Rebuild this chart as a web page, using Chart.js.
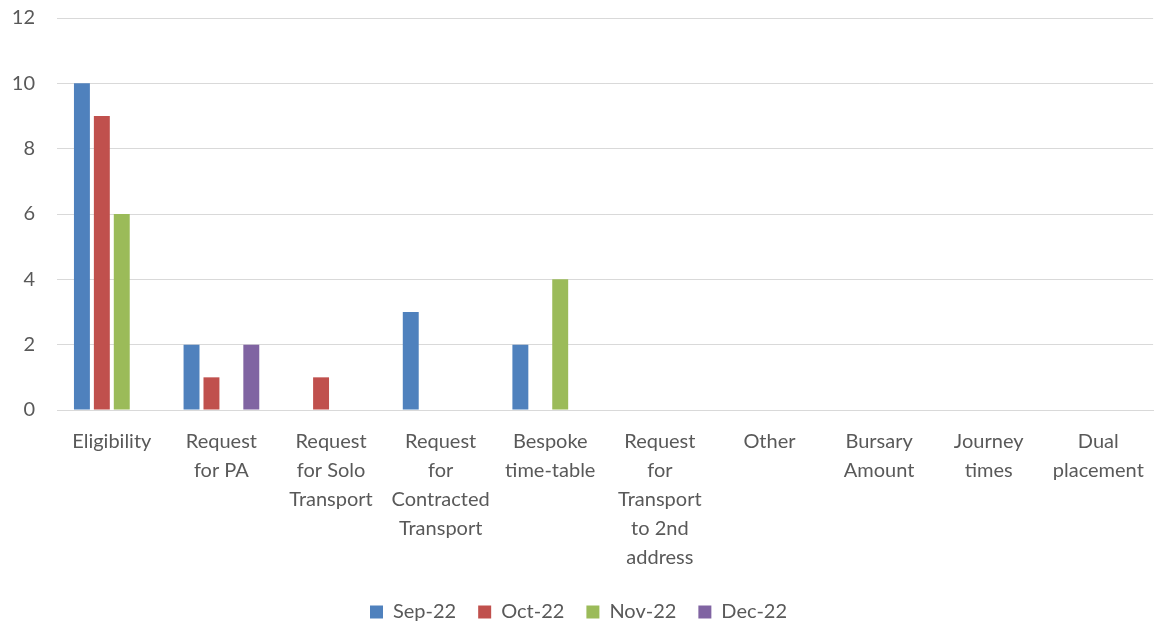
<!DOCTYPE html>
<html>
<head>
<meta charset="utf-8">
<script src="https://cdn.jsdelivr.net/npm/chart.js@4/dist/chart.umd.min.js"></script>
<style>
  html, body { margin: 0; padding: 0; background: #ffffff; }
  #wrap { width: 1161px; height: 626px; }
</style>
</head>
<body>
<div id="wrap"><canvas id="c" width="1161" height="626"></canvas></div>
<script>
// Complaint categories (wrapped into lines as shown under the axis)
const categories = [
  ["Eligibility"],
  ["Request", "for PA"],
  ["Request", "for Solo", "Transport"],
  ["Request", "for", "Contracted", "Transport"],
  ["Bespoke", "time-table"],
  ["Request", "for", "Transport", "to 2nd", "address"],
  ["Other"],
  ["Bursary", "Amount"],
  ["Journey", "times"],
  ["Dual", "placement"]
];

const months = ["Sep-22", "Oct-22", "Nov-22", "Dec-22"];

const sep22 = [10, 2, 0, 3, 2, 0, 0, 0, 0, 0];
const oct22 = [9, 1, 1, 0, 0, 0, 0, 0, 0, 0];
const nov22 = [6, 0, 0, 0, 4, 0, 0, 0, 0, 0];
const dec22 = [0, 2, 0, 0, 0, 0, 0, 0, 0, 0];

const yTicks = [0, 2, 4, 6, 8, 10, 12];

const colors = ["#4f81bd", "#c0504d", "#9bbb59", "#8064a2"];
const series = [sep22, oct22, nov22, dec22];

const FONT = "Lato, 'Open Sans', sans-serif";
const TEXT = "#595959";

new Chart(document.getElementById("c"), {
  type: "bar",
  data: {
    labels: categories,
    datasets: series.map((vals, i) => ({
      label: months[i],
      data: vals,
      backgroundColor: colors[i],
      borderWidth: 0,
      categoryPercentage: 0.727,
      barPercentage: 0.8
    }))
  },
  options: {
    responsive: false,
    animation: false,
    layout: { padding: { top: 18, right: 4, left: 0, bottom: -6 } },
    plugins: {
      tooltip: { enabled: false },
      legend: {
        position: "bottom",
        labels: {
          color: TEXT,
          font: { family: FONT, size: 20 },
          boxWidth: 13,
          boxHeight: 13,
          padding: 22
        }
      }
    },
    scales: {
      x: {
        grid: { display: false, drawTicks: false },
        border: { display: true, color: "#d9d9d9", width: 1 },
        ticks: {
          color: TEXT,
          font: { family: FONT, size: 20, lineHeight: 1.45 },
          padding: 17,
          maxRotation: 0,
          autoSkip: false
        },
        afterFit: (s) => { s.height = 170; }
      },
      y: {
        min: 0,
        max: 12,
        afterBuildTicks: (s) => { s.ticks = yTicks.map(v => ({ value: v })); },
        grid: { color: "#d9d9d9", lineWidth: 1, drawTicks: false },
        border: { display: false },
        ticks: {
          color: TEXT,
          font: { family: FONT, size: 20 },
          padding: 22
        },
        afterFit: (s) => { s.width = 57; s.paddingTop = 0; s.paddingBottom = 0; }
      }
    }
  }
});
</script>
</body>
</html>
